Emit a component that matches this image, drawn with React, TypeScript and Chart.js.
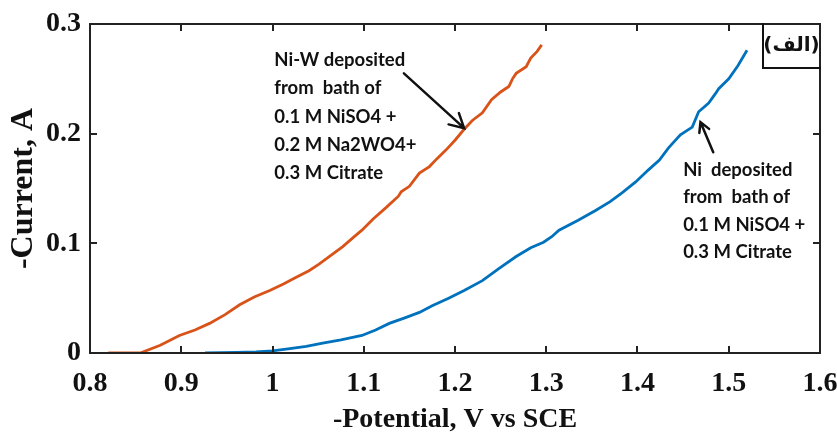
import React, { useEffect, useRef } from "react";
import { Chart, registerables } from "chart.js";

Chart.register(...registerables);

// Ni-W deposit (orange)
const niwPotential = [0.82, 0.855, 0.877, 0.898, 0.915, 0.931, 0.948, 0.964, 0.98, 0.997, 1.012, 1.026, 1.04, 1.051, 1.064, 1.077, 1.088, 1.098, 1.11, 1.125, 1.138, 1.141, 1.15, 1.161, 1.172, 1.18, 1.19, 1.2, 1.21, 1.219, 1.23, 1.24, 1.25, 1.259, 1.263, 1.267, 1.278, 1.283, 1.29, 1.295];
const niwCurrent = [0, 0, 0.007, 0.016, 0.021, 0.027, 0.035, 0.044, 0.051, 0.057, 0.063, 0.069, 0.075, 0.081, 0.089, 0.097, 0.105, 0.112, 0.122, 0.133, 0.143, 0.147, 0.152, 0.164, 0.17, 0.177, 0.185, 0.194, 0.204, 0.212, 0.219, 0.231, 0.238, 0.243, 0.25, 0.255, 0.261, 0.269, 0.275, 0.281];

// Ni deposit (blue)
const niPotential = [0.926, 0.96, 0.982, 1.0, 1.019, 1.037, 1.055, 1.075, 1.098, 1.113, 1.128, 1.145, 1.161, 1.175, 1.193, 1.21, 1.23, 1.248, 1.267, 1.283, 1.297, 1.306, 1.314, 1.335, 1.354, 1.37, 1.383, 1.398, 1.412, 1.424, 1.434, 1.447, 1.46, 1.467, 1.478, 1.485, 1.489, 1.5, 1.51, 1.52];
const niCurrent = [0, 0.0005, 0.001, 0.002, 0.004, 0.006, 0.009, 0.012, 0.016, 0.021, 0.027, 0.032, 0.037, 0.043, 0.05, 0.057, 0.066, 0.077, 0.088, 0.096, 0.101, 0.106, 0.112, 0.121, 0.13, 0.138, 0.146, 0.156, 0.167, 0.176, 0.187, 0.199, 0.206, 0.22, 0.228, 0.236, 0.241, 0.25, 0.262, 0.276];

const xTickValues = [0.8, 0.9, 1, 1.1, 1.2, 1.3, 1.4, 1.5, 1.6];
const yTickValues = [0, 0.1, 0.2, 0.3];

const xTitle = "-Potential, V vs SCE";
const yTitle = "-Current, A";

const niwNote = ["Ni-W deposited", "from  bath of", "0.1 M NiSO4 +", "0.2 M Na2WO4+", "0.3 M Citrate"];
const niNote = ["Ni  deposited", "from  bath of", "0.1 M NiSO4 +", "0.3 M Citrate"];
const panelLabel = "(الف)";

function drawArrow(ctx: CanvasRenderingContext2D, x1: number, y1: number, x2: number, y2: number, head: number) {
  ctx.beginPath();
  ctx.moveTo(x1, y1);
  ctx.lineTo(x2, y2);
  const a = Math.atan2(y2 - y1, x2 - x1);
  const s = 0.5;
  ctx.moveTo(x2 - head * Math.cos(a - s), y2 - head * Math.sin(a - s));
  ctx.lineTo(x2, y2);
  ctx.lineTo(x2 - head * Math.cos(a + s), y2 - head * Math.sin(a + s));
  ctx.stroke();
}

const framePlugin = {
  id: "frame",
  afterDraw(chart: any) {
    const { ctx, scales } = chart;
    const xs = scales.x;
    const ys = scales.y;
    const L = Math.round(xs.getPixelForValue(xTickValues[0]));
    const R = Math.round(xs.getPixelForValue(xTickValues[xTickValues.length - 1]));
    const B = Math.round(ys.getPixelForValue(yTickValues[0]));
    const T = Math.round(ys.getPixelForValue(yTickValues[yTickValues.length - 1]));
    ctx.save();
    ctx.fillStyle = "#222";
    const lw = 2;
    // frame edges as filled bars
    ctx.fillRect(L - 1, T - 1, R - L + lw, lw);
    ctx.fillRect(L - 1, B - 1, R - L + lw, lw);
    ctx.fillRect(L - 1, T - 1, lw, B - T + lw);
    ctx.fillRect(R - 1, T - 1, lw, B - T + lw);
    const tl = 7;
    xTickValues.forEach((v) => {
      const px = Math.round(xs.getPixelForValue(v));
      ctx.fillRect(px - 1, B - tl, lw, tl);
      ctx.fillRect(px - 1, T, lw, tl);
    });
    yTickValues.forEach((v) => {
      const py = Math.round(ys.getPixelForValue(v));
      ctx.fillRect(L, py - 1, tl, lw);
      ctx.fillRect(R - tl, py - 1, tl, lw);
    });

    // annotations
    ctx.fillStyle = "#111";
    ctx.font = "bold 18.5px Lato";
    ctx.textBaseline = "middle";
    ctx.textAlign = "left";
    const n1x = xs.getPixelForValue(1.002);
    const n1y = ys.getPixelForValue(0.267);
    niwNote.forEach((t, i) => ctx.fillText(t, n1x, n1y + i * 28.3));
    const n2x = xs.getPixelForValue(1.45);
    const n2y = ys.getPixelForValue(0.1668);
    niNote.forEach((t, i) => ctx.fillText(t, n2x, n2y + i * 27.3));

    ctx.strokeStyle = "#111";
    ctx.lineWidth = 2.5;
    ctx.lineCap = "round";
    drawArrow(ctx, xs.getPixelForValue(1.144), ys.getPixelForValue(0.255), xs.getPixelForValue(1.21), ys.getPixelForValue(0.205), 16);
    drawArrow(ctx, xs.getPixelForValue(1.483), ys.getPixelForValue(0.183), xs.getPixelForValue(1.469), ys.getPixelForValue(0.2106), 11);

    // panel label box
    ctx.fillStyle = "#111";
    const bw = 57, bh = 44;
    ctx.fillRect(R - bw - 1, T - 1, lw, bh + lw);
    ctx.fillRect(R - bw - 1, T + bh - 1, bw + lw, lw);
    ctx.textAlign = "center";
    ctx.font = "bold 20px 'DejaVu Sans'";
    ctx.fillText(panelLabel, R - bw / 2, T + bh / 2);
    ctx.restore();
  },
};

export default function App() {
  const ref = useRef<HTMLCanvasElement | null>(null);
  useEffect(() => {
    document.body.style.margin = "0";
    const canvas = ref.current!;
    const chart = new Chart(canvas, {
      type: "line",
      data: {
        datasets: [
          {
            label: "Ni-W",
            data: niwPotential.map((x, i) => ({ x, y: niwCurrent[i] })),
            borderColor: "#D95319",
            borderWidth: 2.8,
            pointRadius: 0,
            fill: false,
            tension: 0,
          },
          {
            label: "Ni",
            data: niPotential.map((x, i) => ({ x, y: niCurrent[i] })),
            borderColor: "#0072BD",
            borderWidth: 2.8,
            pointRadius: 0,
            fill: false,
            tension: 0,
          },
        ],
      },
      options: {
        responsive: false,
        animation: false,
        layout: { padding: { top: 24, right: 17, left: 0, bottom: 0 } },
        plugins: { legend: { display: false }, tooltip: { enabled: false } },
        scales: {
          x: {
            type: "linear",
            min: 0.8,
            max: 1.6,
            afterBuildTicks: (s: any) => {
              s.ticks = xTickValues.map((v) => ({ value: v }));
            },
            afterFit: (s: any) => {
              s.height = 81;
              s.paddingLeft = 0;
              s.paddingRight = 0;
            },
            grid: { display: false, drawTicks: false },
            border: { display: false },
            ticks: {
              color: "#111",
              padding: 14,
              maxRotation: 0,
              font: { family: "'Liberation Serif'", size: 28, weight: "bold" },
              callback: (v: any) => String(Number(Number(v).toFixed(1))),
            },
            title: {
              display: true,
              text: xTitle,
              color: "#111",
              padding: { top: 0, bottom: 0 },
              font: { family: "'Liberation Serif'", size: 28, weight: "bold", lineHeight: 1.0 },
            },
          },
          y: {
            type: "linear",
            min: 0,
            max: 0.3,
            afterBuildTicks: (s: any) => {
              s.ticks = yTickValues.map((v) => ({ value: v }));
            },
            afterFit: (s: any) => {
              s.width = 90;
              s.paddingTop = 0;
              s.paddingBottom = 0;
            },
            grid: { display: false, drawTicks: false },
            border: { display: false },
            ticks: {
              color: "#111",
              padding: 9,
              font: { family: "'Liberation Serif'", size: 28, weight: "bold" },
              callback: (v: any) => String(Number(Number(v).toFixed(1))),
            },
            title: {
              display: true,
              text: yTitle,
              color: "#111",
              padding: { top: 5, bottom: 0 },
              font: { family: "'Liberation Serif'", size: 32, weight: "bold" },
            },
          },
        },
      },
      plugins: [framePlugin],
    });
    return () => chart.destroy();
  }, []);
  return <canvas ref={ref} width={837} height={434} style={{ display: "block" }} />;
}
